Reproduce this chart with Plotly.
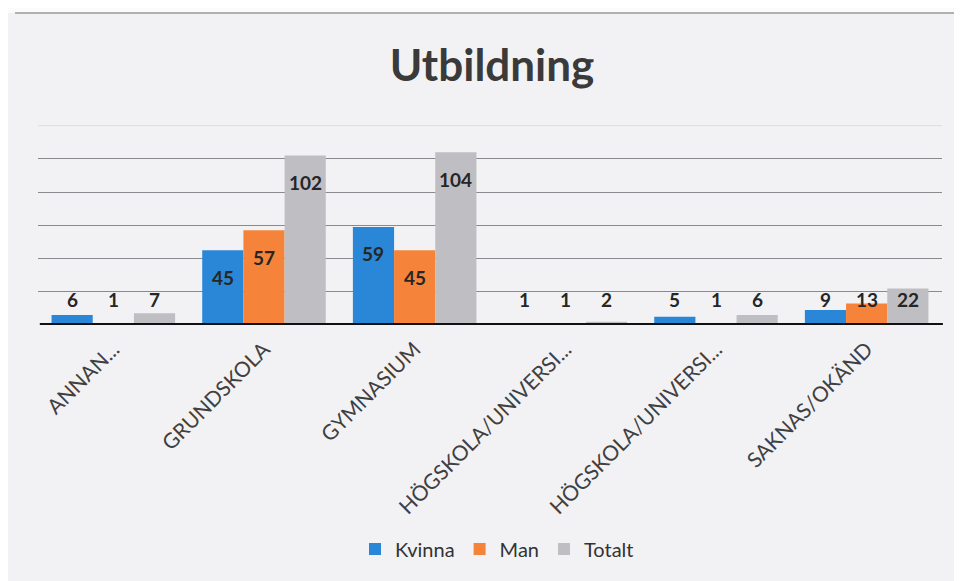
import plotly.graph_objects as go

categories = ["ANNAN...", "GRUNDSKOLA", "GYMNASIUM", "HÖGSKOLA/UNIVERSI...", "HÖGSKOLA/UNIVERSI...", "SAKNAS/OKÄND"]
kvinna = [6, 45, 59, 1, 5, 9]
man = [1, 57, 45, 1, 1, 13]
totalt = [7, 102, 104, 2, 6, 22]
series_names = ["Kvinna", "Man", "Totalt"]
colors = ["#2a86d6", "#f5843a", "#bfbfc3"]

# the page adds an 8px body margin, so the figure is sized to fit inside the window
W, H = 954, 573
ML, MR, MT, MB = 30, 20, 116, 256
BARGAP = 0.18
YMAX = 121
FONT = "Lato, 'Open Sans', sans-serif"

xs = list(range(len(categories)))
fig = go.Figure()
for name, vals, col in zip(series_names, [kvinna, man, totalt], colors):
    fig.add_trace(go.Bar(x=xs, y=vals, name=name, marker=dict(color=col, line=dict(width=0))))

# data labels
w = (1 - BARGAP) / 3
pxu = (H - MT - MB) / YMAX
annotations = []
for si, vals in enumerate([kvinna, man, totalt]):
    for ci, v in enumerate(vals):
        ylab = max(v - 27 / pxu, 26 / pxu)
        annotations.append(dict(x=ci + (si - 1) * w, y=ylab, xref="x", yref="y", text=str(v),
                                showarrow=False, yanchor="middle", xanchor="center",
                                font=dict(family=FONT, size=19, color="#262626", weight="bold")))

plot_w = W - ML - MR
plot_h = H - MT - MB
shapes = [
    # faint top gridline
    dict(type="line", xref="paper", yref="y", x0=0, x1=1, y0=120, y1=120,
         line=dict(color="#dcdce0", width=1), layer="below"),
    # thick baseline drawn over the bar bottoms
    dict(type="line", xref="paper", yref="y", x0=0.002, x1=1.001, y0=0, y1=0,
         line=dict(color="#111111", width=4), layer="above"),
    # white band and frame line at the top of the scan
    dict(type="rect", xref="paper", yref="paper", x0=-ML / plot_w, x1=1 + MR / plot_w,
         y0=(H - MB - 5) / plot_h, y1=(H - MB) / plot_h, fillcolor="#fbfbfc", line=dict(width=0), layer="below"),
    dict(type="line", xref="paper", yref="paper", x0=-(ML - 7) / plot_w, x1=1 + (MR - 7) / plot_w,
         y0=(H - MB - 5) / plot_h, y1=(H - MB - 5) / plot_h, line=dict(color="#9a9a9e", width=1.5)),
]

fig.update_layout(
    width=W, height=H,
    margin=dict(l=ML, r=MR, t=MT, b=MB, pad=0, autoexpand=False),
    paper_bgcolor="#f2f2f5", plot_bgcolor="rgba(0,0,0,0)",
    barmode="group", bargap=BARGAP, bargroupgap=0,
    title=dict(text="<b>Utbildning</b>", x=484 / W, xanchor="center", y=1 - 58 / H, yanchor="middle",
               yref="container", font=dict(family=FONT, size=44, color="#3a3a3a")),
    font=dict(family=FONT, color="#404040"),
    showlegend=True,
    legend=dict(orientation="h", xref="container", yref="container", x=489 / W, xanchor="center",
                y=1 - 541 / H, yanchor="middle", font=dict(size=20, color="#333333"),
                bgcolor="rgba(0,0,0,0)", itemwidth=30),
    annotations=annotations,
    shapes=shapes,
)
fig.update_xaxes(range=[-0.5, len(categories) - 0.5], tickvals=xs, ticktext=categories,
                 tickangle=-45, tickfont=dict(size=21, color="#404040"),
                 showline=False, showgrid=False, ticks="", zeroline=False,
                 ticklabelstandoff=7, automargin=False)
fig.update_yaxes(range=[0, YMAX], tickvals=[20, 40, 60, 80, 100], showticklabels=False,
                 showgrid=True, gridcolor="#8a8a8e", gridwidth=1, zeroline=False, showline=False,
                 automargin=False)

fig.write_html("out.html")
